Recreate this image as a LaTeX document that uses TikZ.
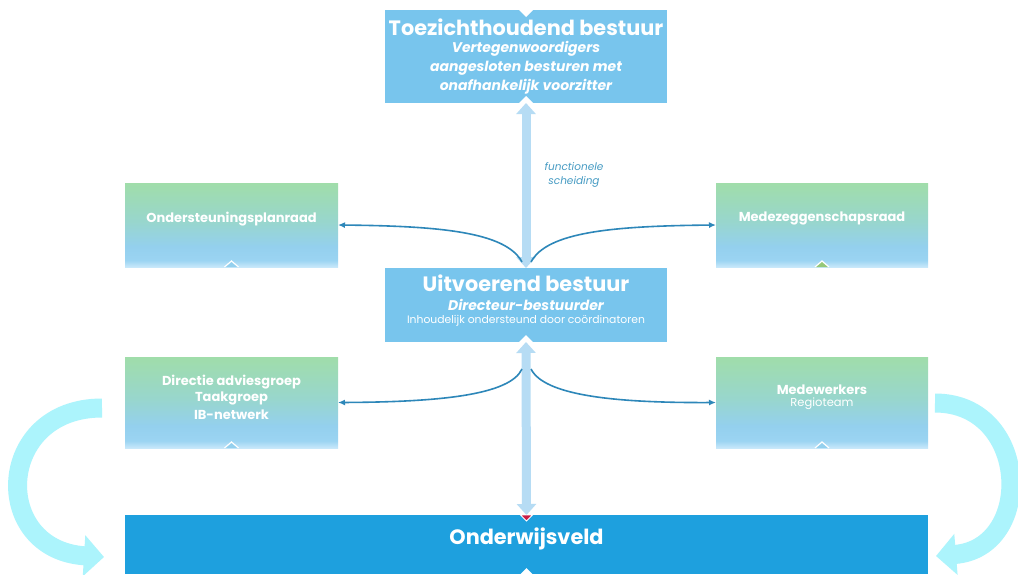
\documentclass[tikz,border=0pt]{standalone}
\usepackage{fontspec}
\setmainfont{Poppins}
\usetikzlibrary{arrows.meta,calc}
\definecolor{boxblue}{RGB}{120,197,237}
\definecolor{deepblue}{RGB}{30,160,222}
\definecolor{connc}{RGB}{45,135,185}
\definecolor{varrowc}{RGB}{182,220,244}
\definecolor{arcc}{RGB}{172,244,252}
\definecolor{notec}{RGB}{70,155,195}
\definecolor{gtop}{RGB}{160,221,170}
\definecolor{gmid}{RGB}{152,214,205}
\definecolor{gb1}{RGB}{148,208,238}
\definecolor{gb2}{RGB}{155,212,242}
\definecolor{gbot}{RGB}{200,232,250}
\definecolor{redtri}{RGB}{200,30,70}
\definecolor{greentri}{RGB}{150,200,120}
\pgfdeclareverticalshading{greenblue}{100bp}{color(0bp)=(gbot); color(25bp)=(gbot); color(29bp)=(gb2); color(37bp)=(gb1); color(52bp)=(gmid); color(75bp)=(gtop); color(100bp)=(gtop)}
\begin{document}
\begin{tikzpicture}[x=1pt,y=-1pt,
  every node/.style={inner sep=0pt, outer sep=0pt},
  solidbox/.style={rectangle, fill=boxblue},
  gbox/.style={rectangle, shading=greenblue},
  ttl/.style={text=white, font=\fontsize{20.8}{24}\selectfont\bfseries},
  subt/.style={text=white, font=\fontsize{14}{17}\selectfont\bfseries\itshape},
  smalltxt/.style={text=white, font=\fontsize{10.8}{13}\selectfont},
  gtxt/.style={text=white, font=\fontsize{13}{16}\selectfont\bfseries},
  notetxt/.style={text=notec, align=center, font=\fontsize{10.5}{14}\selectfont\itshape},
  varrow/.style={draw=varrowc, line width=9pt, {Triangle[width=19pt,length=11pt]}-{Triangle[width=19pt,length=11pt]}},
  conn/.style={draw=connc, line width=1.6pt, -{Latex[length=7pt,width=6pt]}},
  bigarc/.style={draw=arcc, line width=19pt, -{Triangle[width=40pt,length=20pt]}}
]
\useasboundingbox (0,0) rectangle (1018,574);
\fill[white] (0,0) rectangle (1018,574);

% boxes
\node[solidbox, minimum width=282pt, minimum height=93pt] (tb) at (526,56.5) {};
\node[solidbox, minimum width=282pt, minimum height=74pt] (ub) at (526,305) {};
\node[gbox, minimum width=213pt, minimum height=84pt] (osp) at (231.5,225) {};
\node[gbox, minimum width=212pt, minimum height=84pt] (mzr) at (822,225) {};
\node[gbox, minimum width=213pt, minimum height=91pt] (dag) at (231.5,402.5) {};
\node[gbox, minimum width=212pt, minimum height=91pt] (mw) at (822,402.5) {};
\node[rectangle, fill=deepblue, minimum width=803pt, minimum height=59pt] (ow) at (526.5,544.5) {};

% texts
\node[ttl] (t1) at (526,27) {Toezichthoudend bestuur};
\node[subt] (t2) at (526,49) {Vertegenwoordigers};
\node[subt] (t3) at (526,68) {aangesloten besturen met};
\node[subt] (t4) at (526,87) {onafhankelijk voorzitter};
\node[ttl] (u1) at (526,283) {Uitvoerend bestuur};
\node[subt] (u2) at (526,305) {Directeur-bestuurder};
\node[smalltxt] (u3) at (526,321) {Inhoudelijk ondersteund door coördinatoren};
\node[gtxt] (o1) at (231.5,219) {Ondersteuningsplanraad};
\node[gtxt] (m1) at (822,218) {Medezeggenschapsraad};
\node[gtxt] (d1) at (231.5,382) {Directie adviesgroep};
\node[gtxt] (d2) at (231.5,398) {Taakgroep};
\node[gtxt] (d3) at (231.5,415) {IB-netwerk};
\node[gtxt] (w1) at (822,390) {Medewerkers};
\node[smalltxt, font=\fontsize{11.5}{14}\selectfont] (w2) at (822,404) {Regioteam};
\node[ttl] (ow1) at (526.5,539) {Onderwijsveld};
\node[notetxt] (fs) at (574,175) {functionele\\scheiding};

% vertical arrows
\draw[varrow] (tb.south) -- (ub.north);
\draw[varrow] (ub.south) -- (ow.north);

% curved connectors
\coordinate (cul) at (522,262);
\coordinate (cur) at (531,262);
\coordinate (cll) at (522,369);
\coordinate (clr) at (531,369);
\draw[conn] (cul) .. controls (506,232) and (440,226) .. (osp.east);
\draw[conn] (cur) .. controls (547,232) and (612,226) .. (mzr.west);
\draw[conn] (cll) .. controls (510,395) and (440,402) .. (dag.east);
\draw[conn] (clr) .. controls (544,395) and (612,403) .. (mw.west);

% big side arcs
\coordinate (al) at (102,408);
\coordinate (bl) at (104,557);
\coordinate (ar) at (935,403);
\coordinate (br) at (936,556);
\draw[bigarc] (al) .. controls (-5,408) and (-10,550) .. (bl);
\draw[bigarc] (ar) .. controls (1030,403) and (1035,548) .. (br);

% small notches
\fill[white] ($(tb.north)+(-7,0)$) -- ($(tb.north)+(7,0)$) -- ($(tb.north)+(0,7)$) -- cycle;
\fill[white] ($(tb.south)+(-7,0)$) -- ($(tb.south)+(7,0)$) -- ($(tb.south)+(0,-7)$) -- cycle;
\fill[white] ($(ub.south)+(-7,0)$) -- ($(ub.south)+(7,0)$) -- ($(ub.south)+(0,-7)$) -- cycle;
\draw[white, line width=1.2pt, fill=gb1] ($(osp.south)+(-7,0)$) -- ($(osp.south)+(0,-6)$) -- ($(osp.south)+(7,0)$);
\draw[white, line width=1.2pt, fill=greentri] ($(mzr.south)+(-7,0)$) -- ($(mzr.south)+(0,-6)$) -- ($(mzr.south)+(7,0)$);
\draw[white, line width=1.2pt, fill=gb1] ($(dag.south)+(-7,0)$) -- ($(dag.south)+(0,-6)$) -- ($(dag.south)+(7,0)$);
\draw[white, line width=1.2pt, fill=gb1] ($(mw.south)+(-7,0)$) -- ($(mw.south)+(0,-6)$) -- ($(mw.south)+(7,0)$);
\fill[redtri, draw=white, line width=0.8pt] ($(ow.north)+(-6,0)$) -- ($(ow.north)+(6,0)$) -- ($(ow.north)+(0,6)$) -- cycle;
\fill[white] ($(ow.south)+(-6,0)$) -- ($(ow.south)+(6,0)$) -- ($(ow.south)+(0,-6)$) -- cycle;
\end{tikzpicture}
\end{document}
